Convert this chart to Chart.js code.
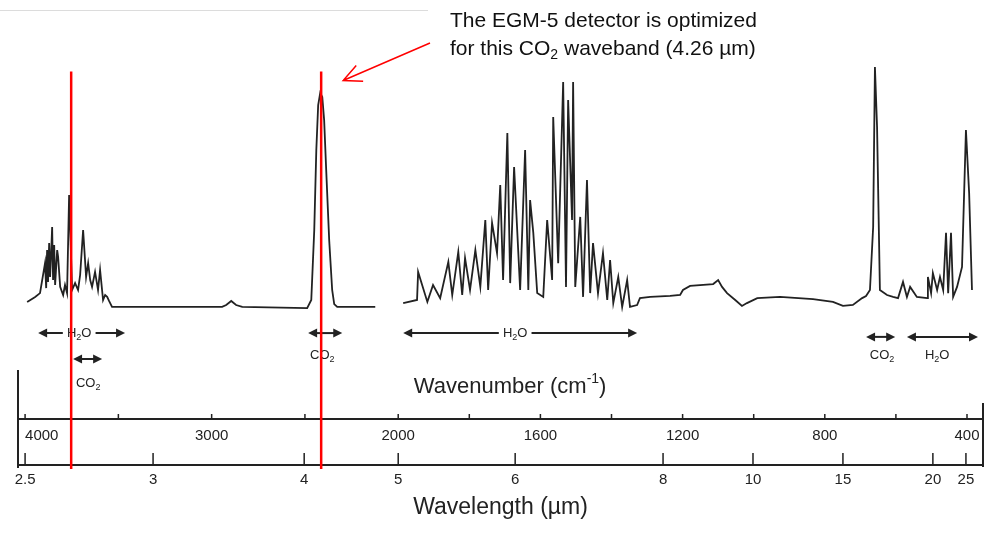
<!DOCTYPE html>
<html>
<head>
<meta charset="utf-8">
<script src="https://cdn.jsdelivr.net/npm/chart.js@4.4.1/dist/chart.umd.min.js"></script>
<style>
  html, body { margin: 0; padding: 0; background: #fff; }
</style>
</head>
<body>
<canvas id="spectrum" width="988" height="542"></canvas>
<script>
// spectrum, x = wavenumber (cm-1), y = relative absorption
const bandAWavenumber = [3989, 3946, 3920, 3893, 3887, 3882, 3877, 3871, 3866, 3860,
  3855, 3850, 3844, 3839, 3828, 3823, 3812, 3796, 3786, 3775,
  3764, 3748, 3732, 3716, 3705, 3689, 3673, 3662, 3651, 3641,
  3625, 3609, 3598, 3582, 3571, 3560, 3550, 3534, 3491, 2944,
  2922, 2895, 2869, 2836, 2488, 2466, 2450, 2439, 2429, 2418,
  2407, 2397, 2386, 2370, 2354, 2343, 2327, 2123];
const bandAAbsorb = [-0.8, 1.3, 2.9, 15.5, 5.0, 21.0, 7.6, 23.9, 9.7, 20.2,
  30.7, 8.4, 23.1, 6.3, 21.0, 18.1, 5.5, 2.1, 6.3, 2.9,
  44.1, 4.2, 7.1, 4.2, 10.5, 29.4, 9.7, 15.5, 8.4, 5.5,
  11.8, 4.2, 12.6, 0, 2.1, 1.3, -0.4, -2.9, -2.9, -2.9,
  -2.1, -0.4, -2.1, -2.9, -3.4, 0, 29.4, 63, 81.9, 87,
  85.3, 75.6, 54.6, 25.2, 4.2, -1.7, -2.9, -2.9];

const bandBWavenumber = [1986, 1947, 1944, 1918, 1902, 1882, 1859, 1848, 1831, 1820,
  1812, 1798, 1783, 1769, 1755, 1747, 1736, 1722, 1713, 1705,
  1693, 1685, 1674, 1657, 1643, 1634, 1629, 1620, 1609, 1592,
  1581, 1567, 1564, 1550, 1536, 1528, 1522, 1511, 1508, 1502,
  1488, 1480, 1469, 1460, 1452, 1438, 1424, 1412, 1404, 1395,
  1381, 1370, 1356, 1348, 1328, 1320, 1291, 1235, 1207, 1199,
  1179, 1114, 1100, 1089, 1075, 1052, 1033, 1019, 990, 926,
  833, 777, 749, 721, 695, 684, 673, 664, 659, 653,
  645, 625, 608, 594, 580, 569, 560, 541, 512, 510,
  501, 496, 484, 476, 467, 459, 453, 445, 439, 428,
  414, 403, 394, 386];
const bandBAbsorb = [-1.3, 0, 11.8, -0.8, 6.3, 0.8, 16.0, 2.1, 20.2, 2.1,
  17.6, 4.2, 21.0, 5.5, 33.6, 4.2, 32.4, 19.7, 48.3, 8.4,
  70.2, 7.1, 55.9, 4.2, 63.0, 4.2, 42.0, 28.2, 2.9, 1.3,
  33.6, 8.4, 76.9, 15.5, 91.6, 5.5, 84.0, 33.6, 91.6, 5.5,
  34.9, 1.3, 50.4, 2.9, 23.9, 2.9, 19.7, 0, 16.8, -1.3,
  9.7, -2.9, 8.4, -2.9, -2.1, 0.8, 1.3, 1.7, 2.1, 4.2,
  5.9, 6.7, 8.4, 5.5, 2.9, 0, -2.5, -1.3, 0.8, 1.3,
  0.4, -0.8, -2.5, -2.1, 0.8, 1.7, 4.2, 30.7, 97.9, 72.7,
  4.2, 2.1, 1.3, 0.8, 7.6, 1.3, 5.5, 1.3, 0.8, 9.7,
  2.9, 11.3, 4.2, 9.7, 4.2, 28.2, 2.9, 28.2, 1.3, 5.5,
  13.9, 71.4, 45, 4.2];

// axis ticks
const wavenumberTicks = [4000, 3500, 3000, 2500, 2000, 1800, 1600, 1400, 1200, 1000, 800, 600, 400];
const wavenumberLabels = [4000, 3000, 2000, 1600, 1200, 800, 400];
const wavelengthLabels = ["2.5", "3", "4", "5", "6", "8", "10", "15", "20", "25"];
const wavelengthAt = [4000, 3314, 2504, 2000, 1671, 1255, 1002, 749, 496, 403]; // where they sit on the scan

// red marker lines (wavenumber), and their vertical extent
const markerWavenumber = [3753, 2413];
const markerTop = 96;
const markerBottom = -71;

// band labels: [gas, from, to, arrowY, textAt, textY, inline]
const bandLabels = [
  ["H2O", 3930, 3464, -13.9, 3710, -13.9, true],
  ["CO2", 3743, 3587, -24.8, 3662, -34.9, false],
  ["CO2", 2483, 2300, -13.9, 2407, -23.1, false],
  ["H2O", 1986, 1328, -13.9, 1671, -13.9, true],
  ["CO2", 684, 602, -15.5, 639, -23.1, false],
  ["H2O", 569, 369, -15.5, 484, -23.1, false],
];

const ink = "#222";
const font = '"Liberation Sans", Arial, sans-serif';

// wavenumber axis with the usual scale change at 2000 cm-1
const BREAK_WN = 2000;
const BREAK_FRAC = 0.394;

class BrokenScale extends Chart.LinearScale {
  getPixelForValue(value) {
    const w = this.right - this.left;
    if (value >= BREAK_WN) {
      return this.left + (this.max - value) / (this.max - BREAK_WN) * BREAK_FRAC * w;
    }
    return this.left + BREAK_FRAC * w + (BREAK_WN - value) / (BREAK_WN - this.min) * (1 - BREAK_FRAC) * w;
  }
  getValueForPixel(pixel) {
    const f = (pixel - this.left) / (this.right - this.left);
    if (f <= BREAK_FRAC) return this.max - f / BREAK_FRAC * (this.max - BREAK_WN);
    return BREAK_WN - (f - BREAK_FRAC) / (1 - BREAK_FRAC) * (BREAK_WN - this.min);
  }
}
BrokenScale.id = "broken";
BrokenScale.defaults = Chart.LinearScale.defaults;
Chart.register(BrokenScale);

function toPoints(xs, ys) {
  return xs.map((x, i) => ({ x: x, y: ys[i] }));
}

function drawFormula(ctx, gas, cx, cy, size) {
  const parts = gas === "H2O" ? ["H", "2", "O"] : ["CO", "2", ""];
  const subSize = Math.round(size * 0.7);
  ctx.font = size + "px " + font;
  const w0 = ctx.measureText(parts[0]).width;
  const w2 = ctx.measureText(parts[2]).width;
  ctx.font = subSize + "px " + font;
  const w1 = ctx.measureText(parts[1]).width;
  const x = cx - (w0 + w1 + w2) / 2;
  ctx.textAlign = "left";
  ctx.textBaseline = "middle";
  ctx.font = size + "px " + font;
  ctx.fillText(parts[0], x, cy);
  ctx.font = subSize + "px " + font;
  ctx.fillText(parts[1], x + w0, cy + size * 0.35);
  ctx.font = size + "px " + font;
  ctx.fillText(parts[2], x + w0 + w1, cy);
}

function arrowHead(ctx, x, y, dir) {
  ctx.beginPath();
  ctx.moveTo(x, y);
  ctx.lineTo(x - dir * 9, y - 4.5);
  ctx.lineTo(x - dir * 9, y + 4.5);
  ctx.closePath();
  ctx.fill();
}

const annotations = {
  id: "annotations",
  afterDraw(chart) {
    const { ctx } = chart;
    const x = chart.scales.x, x2 = chart.scales.x2, y = chart.scales.y;
    ctx.save();

    // faint edge of the pasted scan
    ctx.strokeStyle = "#dcdcdc";
    ctx.lineWidth = 1;
    ctx.beginPath();
    ctx.moveTo(0, 10.5);
    ctx.lineTo(428, 10.5);
    ctx.stroke();

    // frame sides of the axis box
    ctx.strokeStyle = ink;
    ctx.lineWidth = 2;
    ctx.beginPath();
    ctx.moveTo(x.left, x.top - 49);
    ctx.lineTo(x.left, x2.top + 3);
    ctx.moveTo(x.right, x.top - 16);
    ctx.lineTo(x.right, x2.top + 2);
    ctx.stroke();

    // tick marks point up into the plot
    ctx.lineWidth = 1.5;
    ctx.beginPath();
    x.ticks.forEach((t) => {
      const px = x.getPixelForValue(t.value);
      ctx.moveTo(px, x.top);
      ctx.lineTo(px, x.top - 5);
    });
    x2.ticks.forEach((t) => {
      const px = x2.getPixelForValue(t.value);
      ctx.moveTo(px, x2.top);
      ctx.lineTo(px, x2.top - 12);
    });
    ctx.stroke();

    // wavenumber title sits above its axis line
    ctx.fillStyle = ink;
    ctx.textBaseline = "alphabetic";
    ctx.textAlign = "left";
    const t1 = "Wavenumber (cm", t2 = "-1", t3 = ")";
    ctx.font = "22px " + font;
    const a = ctx.measureText(t1).width;
    const c = ctx.measureText(t3).width;
    ctx.font = "14px " + font;
    const b = ctx.measureText(t2).width;
    const tx = x.left + (x.right - x.left) * 0.51 - (a + b + c) / 2;
    const ty = x.top - 26;
    ctx.font = "22px " + font;
    ctx.fillText(t1, tx, ty);
    ctx.font = "14px " + font;
    ctx.fillText(t2, tx + a, ty - 10);
    ctx.font = "22px " + font;
    ctx.fillText(t3, tx + a + b, ty);

    // band labels with double arrows
    bandLabels.forEach(([gas, from, to, ay, at, tyv, inline]) => {
      const x1 = x.getPixelForValue(from), x2p = x.getPixelForValue(to);
      const py = y.getPixelForValue(ay);
      ctx.strokeStyle = ink;
      ctx.fillStyle = ink;
      ctx.lineWidth = 2;
      ctx.beginPath();
      ctx.moveTo(x1 + 6, py);
      ctx.lineTo(x2p - 6, py);
      ctx.stroke();
      arrowHead(ctx, x1, py, -1);
      arrowHead(ctx, x2p, py, 1);
      const cx = x.getPixelForValue(at), cy = y.getPixelForValue(tyv);
      if (inline) {
        ctx.font = "13px " + font;
        const w = ctx.measureText("H2O").width;
        ctx.fillStyle = "#fff";
        ctx.fillRect(cx - w / 2 - 3, cy - 7, w + 6, 14);
        ctx.fillStyle = ink;
      }
      drawFormula(ctx, gas, cx, cy, 13);
    });

    // red marker lines
    ctx.strokeStyle = "#ff0000";
    ctx.lineWidth = 2.5;
    ctx.beginPath();
    markerWavenumber.forEach((wn) => {
      const px = x.getPixelForValue(wn);
      ctx.moveTo(px, y.getPixelForValue(markerTop));
      ctx.lineTo(px, y.getPixelForValue(markerBottom));
    });
    ctx.stroke();

    // callout text
    ctx.fillStyle = "#111";
    ctx.textAlign = "left";
    ctx.textBaseline = "alphabetic";
    ctx.font = "21px " + font;
    ctx.fillText("The EGM-5 detector is optimized", 450, 27);
    const l1 = "for this CO";
    ctx.fillText(l1, 450, 55);
    const lw = ctx.measureText(l1).width;
    ctx.font = "14px " + font;
    ctx.fillText("2", 450 + lw, 59);
    const sw = ctx.measureText("2").width;
    ctx.font = "21px " + font;
    ctx.fillText(" waveband (4.26 \u00b5m)", 450 + lw + sw, 55);

    // callout arrow to the CO2 marker
    const tipX = x.getPixelForValue(markerWavenumber[1]) + 22;
    const tipY = y.getPixelForValue(markerTop) + 9;
    const fromX = 430, fromY = 43;
    const ang = Math.atan2(tipY - fromY, tipX - fromX);
    ctx.strokeStyle = "#ff0000";
    ctx.lineWidth = 1.5;
    ctx.beginPath();
    ctx.moveTo(fromX, fromY);
    ctx.lineTo(tipX, tipY);
    ctx.moveTo(tipX - 20 * Math.cos(ang - 0.45), tipY - 20 * Math.sin(ang - 0.45));
    ctx.lineTo(tipX, tipY);
    ctx.lineTo(tipX - 20 * Math.cos(ang + 0.45), tipY - 20 * Math.sin(ang + 0.45));
    ctx.stroke();

    ctx.restore();
  },
};

const lineStyle = {
  borderColor: "#222",
  borderWidth: 1.8,
  pointRadius: 0,
  tension: 0,
  fill: false,
};

new Chart(document.getElementById("spectrum"), {
  type: "line",
  data: {
    datasets: [
      { label: "2.5 - 4.7 um", data: toPoints(bandAWavenumber, bandAAbsorb), ...lineStyle },
      { label: "5 - 26 um", data: toPoints(bandBWavenumber, bandBAbsorb), ...lineStyle },
    ],
  },
  options: {
    responsive: false,
    animation: false,
    events: [],
    layout: { padding: { top: 62, left: 18, right: 5, bottom: 21 } },
    scales: {
      x: {
        type: "broken",
        position: "bottom",
        weight: 0,
        min: 355,
        max: 4038,
        afterBuildTicks: (scale) => {
          scale.ticks = wavenumberTicks.map((v) => ({ value: v }));
        },
        afterFit: (scale) => {
          scale.height = 46;
          // labels may run past the frame; keep the plot where it is
          scale.paddingLeft = 0;
          scale.paddingRight = 0;
        },
        grid: { drawOnChartArea: false, drawTicks: false },
        border: { display: true, color: ink, width: 2 },
        ticks: {
          autoSkip: false,
          maxRotation: 0,
          padding: 8,
          color: ink,
          font: { family: font, size: 15 },
          // the first label sits just inside the frame, right of its tick
          callback: (v) => {
            if (!wavenumberLabels.includes(v)) return "";
            return v === 4000 ? "        " + v : String(v);
          },
        },
      },
      x2: {
        type: "broken",
        position: "bottom",
        weight: 1,
        min: 355,
        max: 4038,
        afterBuildTicks: (scale) => {
          scale.ticks = wavelengthAt.map((v) => ({ value: v }));
        },
        afterFit: (scale) => {
          scale.height = 56;
          scale.paddingLeft = 0;
          scale.paddingRight = 0;
        },
        grid: { drawOnChartArea: false, drawTicks: false },
        border: { display: true, color: ink, width: 2 },
        ticks: {
          autoSkip: false,
          maxRotation: 0,
          padding: 6,
          color: ink,
          font: { family: font, size: 15 },
          callback: (v, i) => wavelengthLabels[i],
        },
        title: {
          display: true,
          text: "Wavelength (\u00b5m)",
          color: ink,
          padding: 0,
          font: { family: font, size: 23 },
        },
      },
      y: {
        display: false,
        min: -50,
        max: 100,
      },
    },
    plugins: {
      legend: { display: false },
      tooltip: { enabled: false },
    },
  },
  plugins: [annotations],
});
</script>
</body>
</html>
